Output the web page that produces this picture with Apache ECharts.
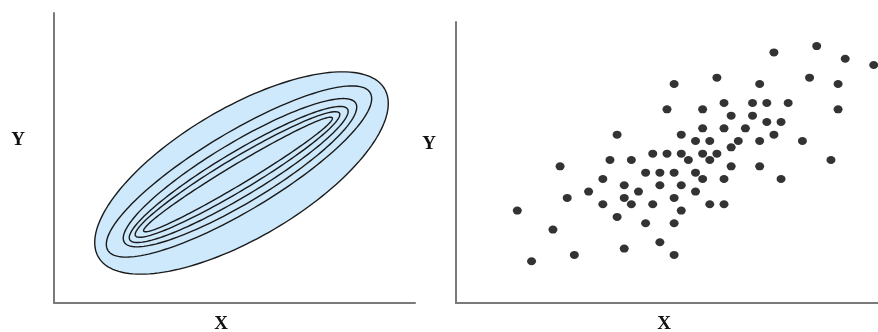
<!DOCTYPE html>
<html>
<head>
<meta charset="utf-8">
<script src="https://cdn.jsdelivr.net/npm/echarts@6/dist/echarts.min.js"></script>
<style>
html,body{margin:0;padding:0;background:#fff;}
#chart{width:878px;height:332px;}
</style>
</head>
<body>
<div id="chart"></div>
<script>
// ---- Left panel: density contours (outer -> inner), in left-axis data units
const contourCx = [187.5, 185, 186, 184.7, 183.5, 184];
const contourCy = [130, 131.5, 130.3, 128.5, 128.5, 128.5];
const contourMajor = [166, 153, 135, 127, 119, 110];
const contourMinor = [65, 39, 30, 22, 16, 10];
const contourAngle = [30.5, 31, 31, 31, 31, 31];

// ---- Right panel: scatter sample (grid units)
const sampleX = [36,42,46,50,28,41,22,34,45,21,26,29,33,35,38,45,30,33,35,37,26,29,32,14,23,36,25,27,31,34,40,30,19,21,23,26,28,24,27,13,16,44,6,30,34,18,20,22,25,12,26,29,37,15,20,23,10,17,25,7,15,22,12,16,19,27,29,0,23,14,18,22,5,20,15,8,22,2];
const sampleY = [33,34,32,31,29,29,28,28,28,24,24,25,25,25,25,24,23,23,22,22,21,21,21,20,20,20,19,19,19,19,19,18,17,17,17,17,17,16,16,16,16,16,15,15,15,14,14,14,14,13,13,13,13,12,12,12,11,11,11,10,10,10,9,9,9,9,9,8,8,7,6,6,5,3,2,1,1,0];

// ---- Axis titles
const axisTitles = ['Y', 'X', 'Y', 'X'];

const chart = echarts.init(document.getElementById('chart'), null, {renderer: 'canvas'});

const axisLine = {show: true, onZero: false, lineStyle: {color: '#7a7a7a', width: 2}};
function plainAxis(extra) {
  return Object.assign({
    type: 'value', axisLine: axisLine, axisTick: {show: false},
    axisLabel: {show: false}, splitLine: {show: false}
  }, extra);
}

const contourData = contourMajor.map((a, i) => [contourCx[i], contourCy[i]]);
const scatterData = sampleX.map((x, i) => [x, sampleY[i]]);

function renderContour(params, api) {
  const i = params.dataIndex;
  const cx = contourCx[i], cy = contourCy[i];
  const a = contourMajor[i], b = contourMinor[i];
  const t = contourAngle[i] * Math.PI / 180;
  const pts = [];
  const n = 160;
  for (let k = 0; k < n; k++) {
    const u = 2 * Math.PI * k / n;
    const ex = a * Math.cos(u), ey = b * Math.sin(u);
    const x = cx + ex * Math.cos(t) - ey * Math.sin(t);
    const y = cy + ex * Math.sin(t) + ey * Math.cos(t);
    pts.push(api.coord([x, y]));
  }
  return {
    type: 'polygon',
    shape: {points: pts},
    style: {
      fill: i === 0 ? '#cde9fb' : 'none',
      stroke: '#1a1a1a',
      lineWidth: 1.4
    }
  };
}

const titleStyle = {font: 'bold 19px "Liberation Serif", serif', fill: '#111', align: 'center', verticalAlign: 'middle'};

chart.setOption({
  animation: false,
  backgroundColor: '#fff',
  grid: [
    {left: 54, top: 13, width: 361, height: 290},
    {left: 456, top: 22, width: 422, height: 281}
  ],
  xAxis: [
    plainAxis({gridIndex: 0, min: 0, max: 361}),
    plainAxis({gridIndex: 1, min: -8.6, max: 50.6})
  ],
  yAxis: [
    plainAxis({gridIndex: 0, min: 0, max: 290}),
    plainAxis({gridIndex: 1, min: -6.6, max: 37.8})
  ],
  series: [
    {
      type: 'custom', xAxisIndex: 0, yAxisIndex: 0,
      renderItem: renderContour, data: contourData, clip: false, silent: true
    },
    {
      type: 'scatter', xAxisIndex: 1, yAxisIndex: 1,
      data: scatterData, symbol: 'circle', symbolSize: [9, 8],
      itemStyle: {color: '#000'}, silent: true, clip: false
    }
  ],
  graphic: [
    {type: 'text', x: 18, y: 140, style: Object.assign({text: axisTitles[0]}, titleStyle)},
    {type: 'text', x: 221, y: 324, style: Object.assign({text: axisTitles[1]}, titleStyle)},
    {type: 'text', x: 429, y: 144, style: Object.assign({text: axisTitles[2]}, titleStyle)},
    {type: 'text', x: 664, y: 324, style: Object.assign({text: axisTitles[3]}, titleStyle)}
  ]
});
</script>
</body>
</html>
